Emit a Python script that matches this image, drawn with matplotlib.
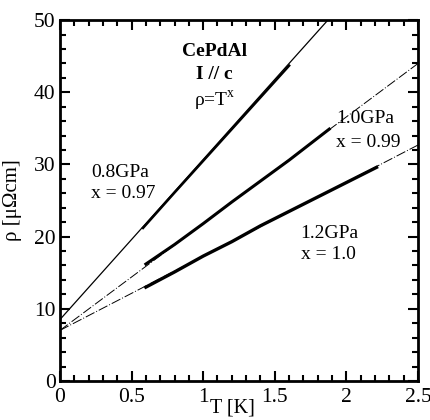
import matplotlib
matplotlib.use("Agg")
import matplotlib.pyplot as plt
from matplotlib.ticker import MultipleLocator

plt.rcParams['font.family'] = ['Liberation Serif', 'DejaVu Serif']
plt.rcParams['mathtext.fontset'] = 'stix'

# fitted lines rho = rho0 + A T^x, read as end points
fit_08_T = [0.0, 1.87]
fit_08_rho = [8.5, 50.0]
fit_10_T = [0.0, 2.5]
fit_10_rho = [7.0, 44.0]
fit_12_T = [0.0, 2.5]
fit_12_rho = [7.0, 32.7]

# measured data (thick segments)
data_08_T = [0.58, 0.8, 1.0, 1.2, 1.45, 1.6]
data_08_rho = [21.2, 26.1, 30.5, 34.9, 40.4, 43.7]
data_10_T = [0.6, 0.8, 1.0, 1.2, 1.4, 1.6, 1.88]
data_10_rho = [16.2, 18.9, 21.8, 24.8, 27.7, 30.6, 34.9]
data_12_T = [0.6, 0.8, 1.0, 1.2, 1.4, 1.6, 1.8, 2.0, 2.21]
data_12_rho = [13.0, 15.1, 17.3, 19.3, 21.5, 23.5, 25.5, 27.5, 29.6]

fig = plt.figure(figsize=(4.31, 4.20), dpi=100)
ax = fig.add_axes([0.139, 0.093, 0.831, 0.859])

ax.plot(fit_08_T, fit_08_rho, color='black', lw=0.9)
ax.plot(fit_10_T, fit_10_rho, color='black', lw=0.7, ls=(0, (10, 2, 1, 2)))
ax.plot(fit_12_T, fit_12_rho, color='black', lw=0.7, ls=(0, (10, 2, 1, 2)))

ax.plot(data_08_T, data_08_rho, color='black', lw=1.8)
ax.plot(data_10_T, data_10_rho, color='black', lw=2.2)
ax.plot(data_12_T, data_12_rho, color='black', lw=2.4)

ax.set_xlim(0, 2.5)
ax.set_ylim(0, 50)
ax.xaxis.set_major_locator(MultipleLocator(0.5))
ax.xaxis.set_minor_locator(MultipleLocator(0.1))
ax.yaxis.set_major_locator(MultipleLocator(10))
ax.yaxis.set_minor_locator(MultipleLocator(2))
ax.xaxis.set_major_formatter(plt.FuncFormatter(lambda v, p: '%g' % v))
ax.tick_params(which='both', direction='in', top=True, right=True,
               labelsize=15.5, width=1.5)
ax.tick_params(axis='x', pad=5)
ax.tick_params(axis='y', pad=3)
ax.tick_params(which='major', length=7)
ax.tick_params(which='minor', length=4)
for s in ax.spines.values():
    s.set_linewidth(2)

ax.set_xlabel('T [K]', fontsize=14.5)
ax.set_ylabel('ρ [μΩcm]', fontsize=15)
ax.xaxis.set_label_coords(0.483, -0.05)
ax.yaxis.set_label_coords(-0.105, 0.5)

ax.text(1.08, 45.7, 'CePdAl', fontsize=14, fontweight='bold', ha='center', va='center')
ax.text(1.08, 42.4, 'I // c', fontsize=14, fontweight='bold', ha='center', va='center')
ax.text(1.08, 38.8, r'ρ=T$^{\mathregular{x}}$', fontsize=14, ha='center', va='center')

ax.text(0.22, 28.9, '0.8GPa', fontsize=14, va='center')
ax.text(0.22, 26.0, 'x = 0.97', fontsize=14, va='center')
ax.text(1.93, 36.4, '1.0GPa', fontsize=14, va='center')
ax.text(1.93, 33.0, 'x = 0.99', fontsize=14, va='center')
ax.text(1.68, 20.5, '1.2GPa', fontsize=14, va='center')
ax.text(1.68, 17.5, 'x = 1.0', fontsize=14, va='center')

fig.savefig('out.png', dpi=100)
